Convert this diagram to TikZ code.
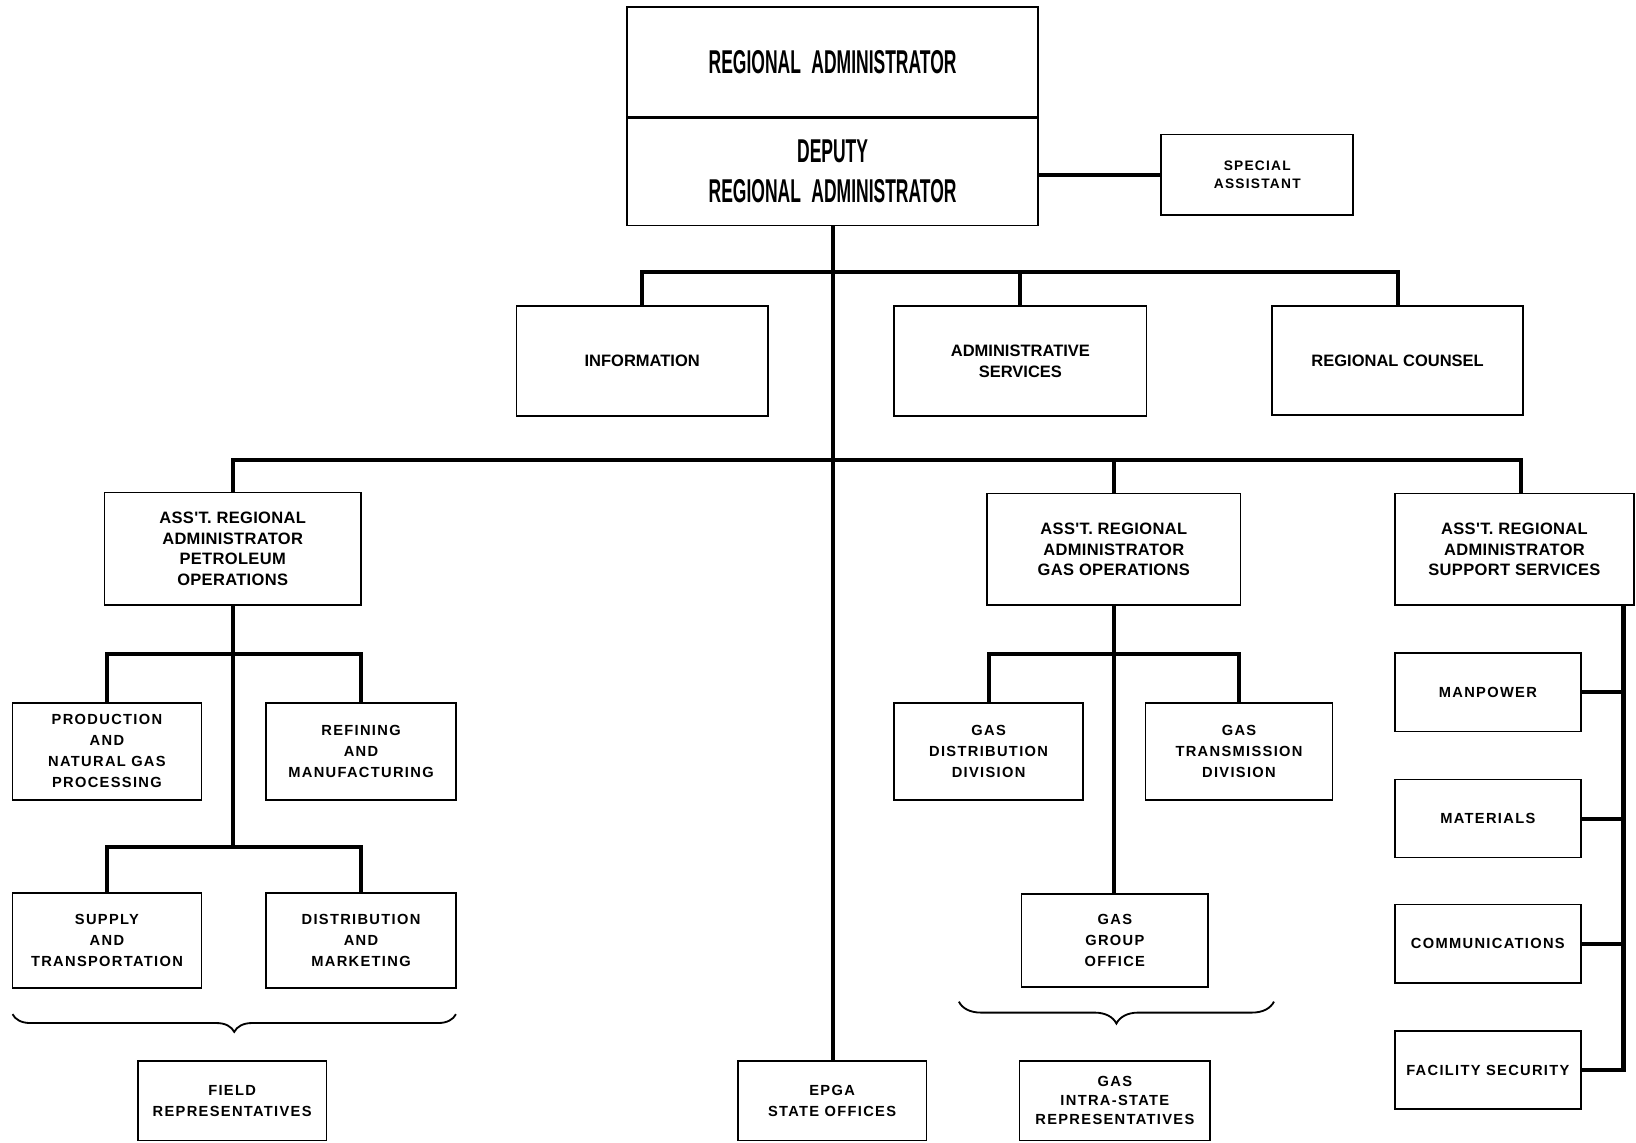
\documentclass[tikz,border=0pt]{standalone}
\usepackage{fontspec}
\setmainfont{Liberation Sans}
\newfontfamily\orgfont{Liberation Sans}[LetterSpace=9]
\newfontfamily\asstfont{Liberation Sans}[LetterSpace=2]
\usepackage{graphicx}
\usetikzlibrary{decorations.pathreplacing,calc,positioning}
\tikzstyle{box} = [draw, line width=0.9pt, rectangle, align=center, inner sep=0pt]
\tikzstyle{unit} = [box, font=\orgfont\bfseries\fontsize{8}{11.4}\selectfont]
\tikzstyle{asst} = [box, font=\asstfont\bfseries\fontsize{9}{11.4}\selectfont]
\tikzstyle{staff} = [box, font=\bfseries\fontsize{9}{11.4}\selectfont]
\tikzstyle{cell} = [unit, minimum width=3.62cm, minimum height=1.86cm]
\tikzstyle{sidecell} = [unit, minimum width=3.56cm, minimum height=1.5cm]
\tikzstyle{line} = [line width=2.2pt]
\tikzstyle{bracket} = [line width=1pt, decorate, decoration={brace,amplitude=0.34cm}]
\newcommand{\headname}[1]{\scalebox{0.53}[1]{#1}}

\begin{document}
\begin{tikzpicture}[x=0.02cm,y=-0.02cm]
\useasboundingbox (0,0) rectangle (1568,1095);

% top of the chart
\node[box, minimum width=7.88cm, minimum height=2.14cm, font=\bfseries\fontsize{18}{21.6}\selectfont] (rega) at (798,60) {\headname{REGIONAL\hspace{0.6em}ADMINISTRATOR}};
\node[box, minimum width=7.88cm, minimum height=2.08cm, font=\bfseries\fontsize{18}{21.6}\selectfont] (dep) at (798,164) {\headname{DEPUTY}\\\headname{REGIONAL\hspace{0.6em}ADMINISTRATOR}};
\node[unit, font=\orgfont\bfseries\fontsize{7.5}{10}\selectfont, minimum width=3.68cm, minimum height=1.54cm] (spec) at (1205,167.5) {SPECIAL\\ASSISTANT};

% staff offices
\node[staff, minimum width=4.82cm, minimum height=2.12cm] (info) at (615.5,346) {INFORMATION};
\node[staff, minimum width=4.84cm, minimum height=2.12cm] (admin) at (978,346) {ADMINISTRATIVE\\SERVICES};
\node[staff, minimum width=4.82cm, minimum height=2.1cm] (counsel) at (1339.5,345.5) {REGIONAL COUNSEL};

% assistant administrators
\node[asst, minimum width=4.92cm, minimum height=2.16cm] (petro) at (223,526) {ASS'T. REGIONAL\\ADMINISTRATOR\\PETROLEUM\\OPERATIONS};
\node[asst, minimum width=4.86cm, minimum height=2.14cm] (gasops) at (1067.5,526.5) {ASS'T. REGIONAL\\ADMINISTRATOR\\GAS OPERATIONS};
\node[asst, minimum width=4.58cm, minimum height=2.14cm] (support) at (1451.5,526.5) {ASS'T. REGIONAL\\ADMINISTRATOR\\SUPPORT SERVICES};

% petroleum operations
\node[cell] (prod) at (102.5,720) {PRODUCTION\\AND\\NATURAL GAS\\PROCESSING};
\node[cell, minimum width=3.64cm] (refin) at (346,720) {REFINING\\AND\\MANUFACTURING};
\node[cell, minimum height=1.82cm] (supply) at (102.5,901.5) {SUPPLY\\AND\\TRANSPORTATION};
\node[cell, minimum width=3.64cm, minimum height=1.82cm] (distr) at (346,901.5) {DISTRIBUTION\\AND\\MARKETING};
\node[cell, minimum height=1.52cm] (field) at (222.5,1055) {FIELD\\REPRESENTATIVES};

% EPGA
\node[cell, minimum height=1.52cm] (epga) at (797.5,1055) {EPGA\\STATE OFFICES};

% gas operations
\node[cell] (gasdist) at (947.5,720) {GAS\\DISTRIBUTION\\DIVISION};
\node[cell, minimum width=3.58cm] (gastrans) at (1187.5,720) {GAS\\TRANSMISSION\\DIVISION};
\node[cell, minimum width=3.58cm, minimum height=1.78cm] (gasgroup) at (1068.5,901.5) {GAS\\GROUP\\OFFICE};
\node[cell, minimum width=3.66cm, minimum height=1.52cm, font=\orgfont\bfseries\fontsize{8}{10.3}\selectfont] (intra) at (1068.5,1055) {GAS\\INTRA-STATE\\REPRESENTATIVES};

% support services
\node[sidecell] (manpower) at (1426,663.5) {MANPOWER};
\node[sidecell] (materials) at (1426,784.5) {MATERIALS};
\node[sidecell] (comms) at (1426,904.5) {COMMUNICATIONS};
\node[sidecell] (facsec) at (1426,1025.5) {FACILITY SECURITY};

\coordinate (bus1) at (798,261);
\coordinate (bus2) at (798,441);
\coordinate (sdrop) at (1458,441);
\coordinate (pbus1) at (223,627);
\coordinate (pbus2) at (223,812);
\coordinate (gbus) at (1068,627);
\coordinate (stop) at (1556,580);

% connectors
\draw[line] (spec.west -| dep.east) -- (spec.west);
\draw[line] (dep.south) -- (dep.south |- epga.north);
\draw[line] (info.north) |- (bus1) -| (counsel.north);
\draw[line] (admin.north) -- (admin.north |- bus1);
\draw[line] (petro.north) |- (bus2) -| (sdrop) -- (sdrop |- support.north);
\draw[line] (gasops.north) -- (gasops.north |- bus2);
\draw[line] (petro.south) -- (pbus2);
\draw[line] (prod.north) |- (pbus1) -| (refin.north);
\draw[line] (supply.north) |- (pbus2) -| (distr.north);
\draw[line] (gasops.south) -- (gasops.south |- gasgroup.north);
\draw[line] (gasdist.north) |- (gbus) -| (gastrans.north);
\draw[line] (stop) |- (facsec.east);
\foreach \n in {manpower,materials,comms}
  \draw[line] (\n.east) -- (\n.east -| stop);

% braces
\draw[bracket] (437,972) -- (12,972);
\draw[bracket, decoration={brace,amplitude=0.42cm}] (1221,960) -- (919,960);
\end{tikzpicture}
\end{document}
